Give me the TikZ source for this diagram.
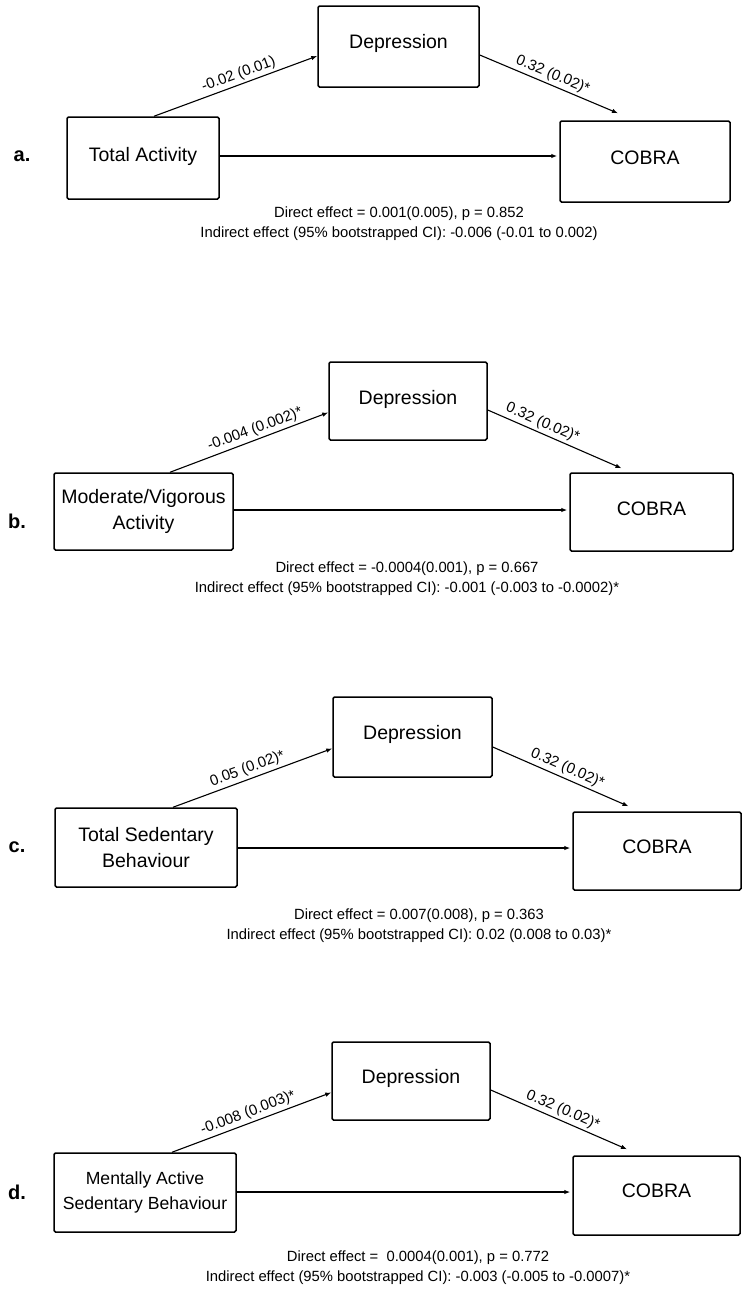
\documentclass[tikz,border=0pt]{standalone}
\usepackage{fontspec}
\setmainfont{Liberation Sans}
\usetikzlibrary{arrows.meta,calc}
\begin{document}
\begin{tikzpicture}[x=1pt,y=-1pt,
  box/.style={draw, line width=1.5pt, rounded corners=1.5pt, align=center, inner sep=0pt, font=\fontsize{19.5}{26}\selectfont},
  smallbox/.style={box, font=\fontsize{17.6}{25}\selectfont},
  lift/.style={text depth=#1},
  arr/.style={line width=1.1pt, -{Latex[length=6pt,width=4.5pt]}},
  elab/.style={sloped, above, inner sep=2.5pt, font=\fontsize{15}{18}\selectfont},
  note/.style={align=center, font=\fontsize{14.8}{20}\selectfont, inner sep=0pt},
  tag/.style={font=\bfseries\fontsize{20}{24}\selectfont, inner sep=0pt}]
\useasboundingbox (0,0) rectangle (751,1296);
\fill[white] (0,0) rectangle (751,1296);

% ---------- panel a ----------
\node[box, lift=10pt, minimum width=161pt, minimum height=81pt] (depA) at (398.5,46.5) {Depression};
\node[box, lift=7pt, minimum width=152pt, minimum height=82pt] (xA) at (143,158) {Total Activity};
\node[box, lift=8pt, minimum width=170pt, minimum height=81pt] (cobA) at (645,161.5) {COBRA};
\node[tag] (tagA) at (22,156) {a.};
\draw[arr] ($(xA.north)+(11,0)$) -- node[elab, pos=0.54] {-0.02 (0.01)} ($(depA.west)+(0,9.5)$);
\draw[arr] ($(depA.east)+(0,8.5)$) -- node[elab, pos=0.5] {0.32 (0.02)*} ($(cobA.north)+(-27,-7)$);
\draw[arr, shorten >=2pt] ($(xA.east)+(0,-2)$) coordinate (dA) -- (dA -| cobA.west);
\node[note] (noteA) at (399,223.5) {Direct effect = 0.001(0.005), p = 0.852\\Indirect effect (95\% bootstrapped CI): -0.006 (-0.01 to 0.002)};

% ---------- panel b ----------
\node[box, lift=8pt, minimum width=158pt, minimum height=78pt] (depB) at (408,401) {Depression};
\node[box, minimum width=179pt, minimum height=77pt] (xB) at (143.5,511.5) {Moderate/Vigorous\\Activity};
\node[box, lift=6pt, minimum width=163pt, minimum height=78pt] (cobB) at (651.5,512) {COBRA};
\node[tag] (tagB) at (17,521) {b.};
\draw[arr] ($(xB.north)+(26.5,0)$) -- node[elab, pos=0.56] {-0.004 (0.002)*} ($(depB.west)+(0,11.5)$);
\draw[arr] ($(depB.east)+(0,9)$) -- node[elab, pos=0.38] {0.32 (0.02)*} ($(cobB.north)+(-30,-4)$);
\draw[arr, shorten >=2pt] ($(xB.east)+(0,-1.5)$) coordinate (dB) -- (dB -| cobB.west);
\node[note] (noteB) at (407,579) {Direct effect = -0.0004(0.001), p = 0.667\\Indirect effect (95\% bootstrapped CI): -0.001 (-0.003 to -0.0002)*};

% ---------- panel c ----------
\node[box, lift=9pt, minimum width=159pt, minimum height=80pt] (depC) at (412.5,737) {Depression};
\node[box, minimum width=182pt, minimum height=79pt] (xC) at (146,847.5) {Total Sedentary\\Behaviour};
\node[box, lift=9pt, minimum width=168pt, minimum height=78pt] (cobC) at (657,851) {COBRA};
\node[tag] (tagC) at (17,847) {c.};
\draw[arr] ($(xC.north)+(27,0)$) -- node[elab, pos=0.49] {0.05 (0.02)*} ($(depC.west)+(0,11.5)$);
\draw[arr] ($(depC.east)+(0,10)$) -- node[elab, pos=0.52] {0.32 (0.02)*} ($(cobC.north)+(-28.5,-5)$);
\draw[arr, shorten >=2pt] ($(xC.east)+(0,0.5)$) coordinate (dC) -- (dC -| cobC.west);
\node[note] (noteC) at (419,925.5) {Direct effect = 0.007(0.008), p = 0.363\\Indirect effect (95\% bootstrapped CI): 0.02 (0.008 to 0.03)*};

% ---------- panel d ----------
\node[box, lift=9pt, minimum width=158pt, minimum height=78pt] (depD) at (411,1081) {Depression};
\node[smallbox, minimum width=182pt, minimum height=79pt] (xD) at (145,1192.5) {Mentally Active\\Sedentary Behaviour};
\node[box, lift=10pt, minimum width=167pt, minimum height=79pt] (cobD) at (656.5,1195.5) {COBRA};
\node[tag] (tagD) at (17,1192) {d.};
\draw[arr] ($(xD.north)+(27,0)$) -- node[elab, pos=0.5] {-0.008 (0.003)*} ($(depD.west)+(0,11.5)$);
\draw[arr] ($(depD.east)+(0,9)$) -- node[elab, pos=0.5] {0.32 (0.02)*} ($(cobD.north)+(-29.5,-6)$);
\draw[arr, shorten >=2pt] ($(xD.east)+(0,-0.5)$) coordinate (dD) -- (dD -| cobD.west);
\node[note] (noteD) at (418,1267.5) {Direct effect = \ 0.0004(0.001), p = 0.772\\Indirect effect (95\% bootstrapped CI): -0.003 (-0.005 to -0.0007)*};
\end{tikzpicture}
\end{document}
